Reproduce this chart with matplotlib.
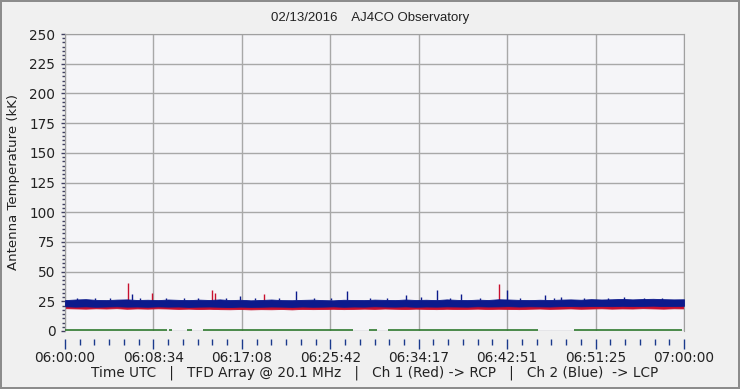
import matplotlib
matplotlib.use("Agg")
import matplotlib.pyplot as plt
from matplotlib.ticker import AutoMinorLocator
import numpy as np

# envelope of the noisy traces, one value per minute (06:00 .. 07:00)
minutes = list(range(61))
blue_hi = [26.0, 26.5, 26.8, 26.2, 26.0, 26.4, 26.6, 26.1, 26.3, 26.0, 26.5, 26.2, 26.0,
           26.4, 26.1, 26.6, 26.0, 26.3, 25.8, 26.1, 26.5, 26.0, 25.9, 26.2, 26.4, 26.0,
           25.8, 26.3, 26.1, 26.0, 26.4, 26.2, 26.0, 26.5, 26.1, 26.3, 26.0, 26.6, 26.2,
           26.0, 26.4, 26.1, 26.7, 26.5, 26.2, 26.0, 26.3, 26.1, 26.4, 26.6, 26.3, 26.8,
           26.5, 26.7, 27.0, 26.6, 26.9, 27.1, 26.8, 26.6, 26.7]
blue_lo = [20.8, 20.5, 20.7, 20.4, 20.6, 20.8, 20.5, 20.6, 20.4, 20.7, 20.5, 20.6, 20.3,
           20.5, 20.6, 20.4, 20.2, 20.5, 20.3, 20.4, 20.6, 20.5, 20.3, 20.6, 20.4, 20.5,
           20.7, 20.4, 20.6, 20.5, 20.8, 20.6, 20.5, 20.7, 20.4, 20.6, 20.5, 20.7, 20.6,
           20.5, 20.8, 20.6, 20.7, 20.9, 20.6, 20.8, 20.7, 20.6, 20.9, 21.0, 20.8, 21.0,
           21.1, 20.9, 21.2, 21.0, 21.1, 21.3, 21.0, 21.1, 21.2]
red_hi = [24.0, 24.2, 24.1, 24.3, 24.0, 24.2, 24.1, 24.0, 24.3, 24.1, 24.0, 24.2, 24.1,
          24.0, 24.2, 24.1, 23.9, 24.0, 24.1, 24.2, 24.0, 23.9, 24.1, 24.0, 24.2, 24.1,
          24.0, 24.1, 24.2, 24.0, 24.1, 24.3, 24.0, 24.2, 24.1, 24.0, 24.2, 24.1, 24.3,
          24.2, 24.1, 24.3, 24.2, 24.4, 24.2, 24.3, 24.1, 24.2, 24.4, 24.3, 24.5, 24.4,
          24.6, 24.5, 24.7, 24.5, 24.6, 24.8, 24.6, 24.7, 24.6]
red_lo = [19.2, 19.0, 18.8, 19.1, 18.9, 19.2, 18.7, 19.0, 18.8, 19.1, 18.9, 18.6, 18.8,
          18.5, 18.7, 18.4, 18.3, 18.5, 18.2, 18.4, 18.3, 18.5, 18.2, 18.6, 18.4, 18.5,
          18.7, 18.4, 18.6, 18.8, 18.6, 18.9, 18.7, 18.5, 18.8, 18.6, 18.4, 18.7, 18.5,
          18.6, 18.8, 18.5, 18.7, 18.6, 18.4, 18.7, 18.9, 18.6, 18.8, 19.0, 18.7, 18.9,
          19.1, 18.8, 19.0, 18.9, 19.2, 19.0, 18.8, 19.1, 19.0]

# isolated spikes (minute, peak kK)
red_spike_t = [6.10, 8.42, 14.23, 14.52, 19.26, 42.10]
red_spike_v = [40.0, 32.0, 34.5, 32.0, 31.0, 39.5]
blue_spike_t = [6.48, 16.94, 22.35, 27.29, 33.10, 34.55, 36.10, 38.42, 42.87, 46.55, 48.10]
blue_spike_v = [31.0, 29.5, 33.6, 33.6, 30.0, 29.0, 34.5, 31.0, 34.5, 30.0, 29.0]

# small bumps on the top edge of the blue trace (minute, peak kK)
blue_bump_t = [1.2, 2.9, 4.4, 7.3, 9.8, 11.5, 12.9, 15.6, 18.4, 20.7, 24.1, 25.8,
               29.6, 31.2, 37.3, 40.2, 44.1, 47.4, 50.3, 52.6, 54.2, 56.1, 57.9]
blue_bump_v = [27.8, 27.5, 28.0, 27.6, 27.9, 27.4, 27.7, 27.5, 27.8, 27.4, 27.6, 27.9,
               27.5, 27.7, 28.0, 27.5, 27.8, 27.6, 28.1, 27.7, 28.2, 27.9, 28.0]

# green channel: segments where it is present
green_start = [0.0, 10.1, 11.8, 13.4, 29.5, 31.3, 49.3]
green_end = [9.9, 10.4, 12.3, 27.9, 30.2, 45.8, 59.8]
green_level = 0.7

xtick_labels = ["06:00:00", "06:08:34", "06:17:08", "06:25:42",
                "06:34:17", "06:42:51", "06:51:25", "07:00:00"]

fig = plt.figure(figsize=(7.4, 3.89), dpi=100, facecolor="#f0f0f0",
                 edgecolor="#8c8c8c", linewidth=1.5)
ax = fig.add_axes([65 / 740, 1 - 331 / 389, 619 / 740, 297 / 389])
ax.set_facecolor("#f5f5f8")

red = "#c8102e"
blue = "#0c1a8c"
green = "#2f7a2f"

ax.fill_between(minutes, red_lo, red_hi, color=red, lw=0.6, zorder=2)
ax.vlines(red_spike_t, red_hi[0], red_spike_v, color=red, lw=1, zorder=2)
ax.fill_between(minutes, blue_lo, blue_hi, color=blue, lw=0.6, zorder=3)
ax.vlines(blue_spike_t, blue_hi[0], blue_spike_v, color=blue, lw=1, zorder=3)
ax.vlines(blue_bump_t, blue_hi[0], blue_bump_v, color=blue, lw=1, zorder=3)
ax.hlines([green_level] * len(green_start), green_start, green_end,
          color=green, lw=1.2, zorder=3)

ax.set_xlim(0, 60)
ax.set_ylim(0, 250)
ax.set_xticks(np.linspace(0, 60, 8))
ax.set_xticklabels(xtick_labels)
ax.set_yticks(range(0, 251, 25))
ax.xaxis.set_minor_locator(AutoMinorLocator(6))
ax.yaxis.set_minor_locator(AutoMinorLocator(7))
ax.grid(True, which="major", color="#a8a8a8", lw=1)
ax.set_axisbelow(True)

for side in ["top", "right", "left"]:
    ax.spines[side].set_color("#a0a0a0")
ax.spines["bottom"].set_position(("outward", 6))
ax.spines["bottom"].set_visible(False)

ax.tick_params(axis="x", which="major", direction="out", length=7, width=1,
               color="#1a3a8c", labelsize=9.8, pad=1.5, labelcolor="#222222")
ax.tick_params(axis="x", which="minor", direction="out", length=4, width=1,
               color="#1a3a8c")
ax.tick_params(axis="y", which="major", direction="out", length=3, width=1,
               color="#404060", labelsize=9.8, pad=4, labelcolor="#222222")
ax.tick_params(axis="y", which="minor", direction="out", length=2, width=1,
               color="#404060")

ax.set_ylabel("Antenna Temperature (kK)", fontsize=9.5, color="#222222", labelpad=7)
ax.set_xlabel("Time UTC   |   TFD Array @ 20.1 MHz   |   Ch 1 (Red) -> RCP   |   "
              "Ch 2 (Blue)  -> LCP", fontsize=9.8, color="#222222", labelpad=0)
fig.text(0.5, 1 - 18 / 389, "02/13/2016    AJ4CO Observatory", ha="center",
         va="center", fontsize=9.5, family="Liberation Sans", color="#222222")

fig.savefig("out.png", dpi=100, facecolor=fig.get_facecolor(),
            edgecolor=fig.get_edgecolor())
